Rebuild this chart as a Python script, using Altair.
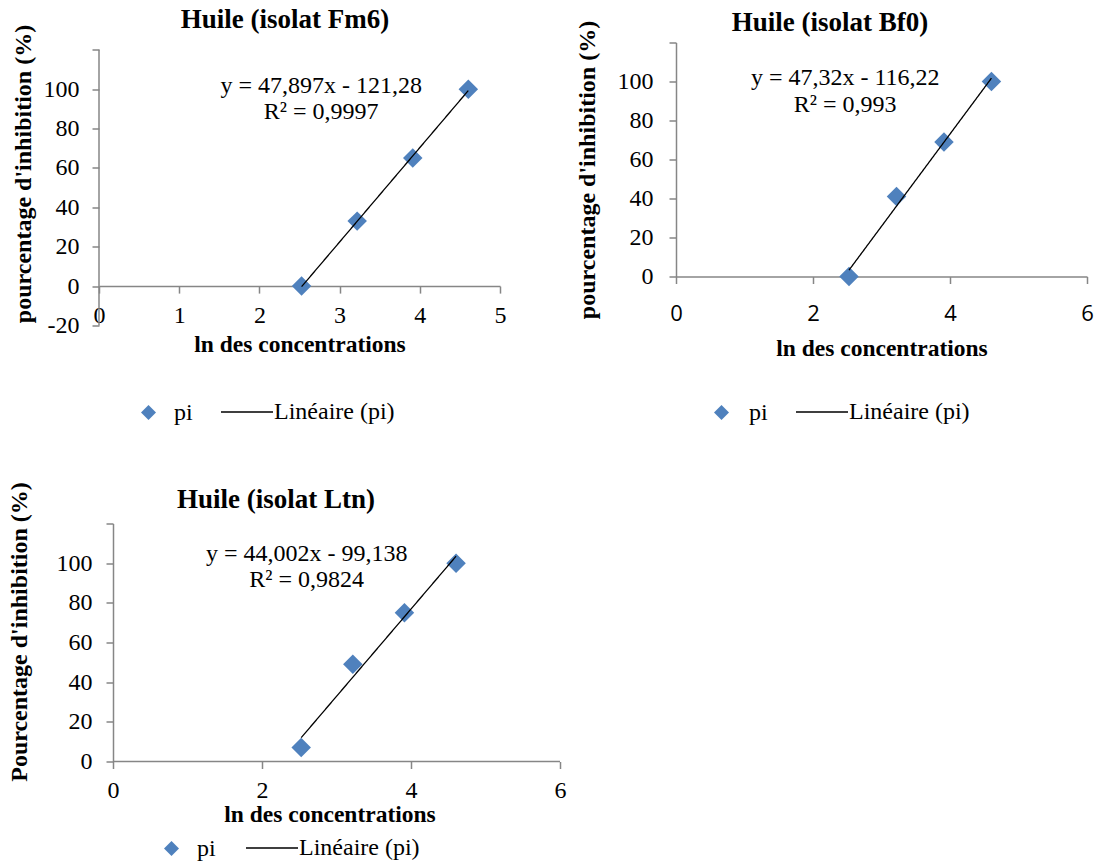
import altair as alt
import pandas as pd

# ---------------- data ----------------
ln_conc = [2.526, 3.219, 3.912, 4.605]
pi_fm6 = [0, 33, 65, 100]
pi_bf0 = [0, 41, 69, 100]
pi_ltn = [7, 49, 75, 100]

series_names = ["pi", "Linéaire (pi)"]
panel_titles = ["Huile (isolat Fm6)", "Huile (isolat Bf0)", "Huile (isolat Ltn)"]
y_titles = ["pourcentage d'inhibition (%)", "pourcentage d'inhibition (%)",
            "Pourcentage d'inhibition (%)"]
x_title = "ln des concentrations"
equations = [["y = 47,897x - 121,28", "R² = 0,9997"],
             ["y = 47,32x - 116,22", "R² = 0,993"],
             ["y = 44,002x - 99,138", "R² = 0,9824"]]
eq_x = [2.77, 2.47, 2.60]
eq_y = [[101.5, 88.3], [102.0, 87.7], [104.4, 91.3]]
x_ticks = [[0, 1, 2, 3, 4, 5], [0, 2, 4, 6], [0, 2, 4, 6]]
y_ticks = [[-20, 0, 20, 40, 60, 80, 100, 120],
           [0, 20, 40, 60, 80, 100, 120],
           [0, 20, 40, 60, 80, 100, 120]]

# ---------------- styles ----------------
GRAY = "#868686"
BLUE = "#4f81bd"
SERIF = "Liberation Serif"
SANS = "Open Sans"
LABEL_EXPR = "datum.value == 120 ? '' : '' + datum.value"


def x_axis(ticks, label_font, lp, title_y, offset=0, domain=True, fs=24):
    return alt.Axis(values=ticks, orient="bottom", offset=offset, domain=domain,
                    domainColor=GRAY, domainWidth=1.5, tickColor=GRAY, tickWidth=1.5,
                    tickSize=7, grid=False, labelFont=label_font, labelFontSize=fs,
                    labelColor="black", labelPadding=lp, labelFlush=False,
                    labelOverlap=False, labelExpr="'' + datum.value",
                    title=x_title, titleFont=SERIF, titleFontSize=23.5,
                    titleFontWeight="bold", titleColor="black",
                    titleBaseline="alphabetic", titleY=title_y)


def y_axis(ticks, title, lp, title_x, title_y, offset=0, domain=True):
    return alt.Axis(values=ticks, orient="left", offset=offset, domain=domain,
                    domainColor=GRAY, domainWidth=1.5, tickColor=GRAY, tickWidth=1.5,
                    tickSize=7, grid=False, labelFont=SERIF, labelFontSize=24,
                    labelColor="black", labelPadding=lp, labelFlush=False,
                    labelOverlap=False, labelExpr=LABEL_EXPR,
                    title=title, titleFont=SERIF, titleFontSize=24,
                    titleFontWeight="bold", titleColor="black", titleAngle=270,
                    titleAlign="center", titleBaseline="alphabetic",
                    titleX=title_x, titleY=title_y)


def legend_pts(lx, ly, loff):
    return alt.Legend(orient="none", legendX=lx, legendY=ly, title=None, padding=0,
                      symbolType="diamond", symbolSize=225, symbolStrokeWidth=0,
                      symbolOpacity=1, labelFont=SERIF, labelFontSize=24,
                      labelColor="black", labelOffset=loff)


def legend_line(lx, ly, loff):
    return alt.Legend(orient="none", legendX=lx, legendY=ly, title=None, padding=0,
                      symbolType="stroke", symbolSize=2704, symbolStrokeColor="black",
                      symbolStrokeWidth=1.3, labelFont=SERIF, labelFontSize=24,
                      labelColor="black", labelOffset=loff)


def panel(i, pi_vals, width, height, xdom, ydom, xax, yax, title_dx, title_dy,
          lp_pts, lp_line, rules=None):
    df = pd.DataFrame({"x": ln_conc, "y": pi_vals, "s": series_names[0]})
    x_enc = alt.X("x:Q", scale=alt.Scale(domain=xdom, nice=False, zero=False), axis=xax)
    y_enc = alt.Y("y:Q", scale=alt.Scale(domain=ydom, nice=False, zero=False), axis=yax)

    pts = alt.Chart(df).mark_point(shape="diamond", filled=True, size=380, opacity=1).encode(
        x=x_enc, y=y_enc,
        color=alt.Color("s:N", scale=alt.Scale(domain=[series_names[0]], range=[BLUE]),
                        legend=lp_pts))
    line = alt.Chart(df).transform_regression("x", "y").transform_calculate(
        t="'" + series_names[1] + "'"
    ).mark_line(color="black", strokeWidth=1.3).encode(
        x=x_enc, y=y_enc,
        strokeDash=alt.StrokeDash("t:N", scale=alt.Scale(domain=[series_names[1]],
                                                         range=[[1, 0]]),
                                  legend=lp_line))
    eq_df = pd.DataFrame({"x": [eq_x[i], eq_x[i]], "y": eq_y[i], "label": equations[i]})
    eq = alt.Chart(eq_df).mark_text(font=SERIF, fontSize=24, color="black",
                                    align="center", baseline="middle").encode(
        x=x_enc, y=y_enc, text="label:N")
    layers = []
    if rules is not None:
        rdf, kind = rules
        r = alt.Chart(rdf).mark_rule(color=GRAY, strokeWidth=1.5)
        if kind == "v":
            r = r.encode(x=x_enc, y=y_enc, y2="y2:Q")
        else:
            r = r.encode(x=x_enc, x2="x2:Q", y=y_enc)
        layers.append(r)
    layers += [pts, line, eq]
    return alt.layer(*layers).properties(
        width=width, height=height,
        title=alt.TitleParams(panel_titles[i], font=SERIF, fontSize=27, fontWeight="bold",
                              color="black", anchor="middle", frame="group",
                              baseline="alphabetic", offset=0, dx=title_dx, dy=title_dy))


# Panel 1 (Fm6): y axis drawn as a rule from -20 to 120, x axis crosses at y = 0
p1_rule = pd.DataFrame({"x": [x_ticks[0][0]], "y": [y_ticks[0][0]], "y2": [y_ticks[0][-1]]})
p1 = panel(0, pi_fm6, 401, 283, [0, 5], [-20, 123.7],
           x_axis(x_ticks[0], SERIF, 10, 65, offset=-39.4),
           y_axis(y_ticks[0], y_titles[0], 13, -69, 131, domain=False),
           -14.5, 31, legend_pts(37.5, 358, 13.5), legend_line(121, 342.5, 0),
           rules=(p1_rule, "v"))

p2 = panel(1, pi_bf0, 411, 234, [0, 6], [0, 120],
           x_axis(x_ticks[1], SANS, 19.6, 79, fs=22),
           y_axis(y_ticks[1], y_titles[1], 16, -81.5, 127),
           -51.5, 37.5, legend_pts(33.5, 358, 15.5), legend_line(119, 342.5, 0))

p3_rule = pd.DataFrame({"x": [x_ticks[2][0]], "x2": [x_ticks[2][-1]], "y": [y_ticks[2][0]]})
p3 = panel(2, pi_ltn, 461, 238, [-0.188, 6], [0, 120],
           x_axis(x_ticks[2], SERIF, 10, 60, domain=False),
           y_axis(y_ticks[2], y_titles[2], 14, -87, 108, offset=-14),
           -53.5, 53.5, legend_pts(60.5, 313, 13.5), legend_line(146, 297.5, 0),
           rules=(p3_rule, "h"))

chart = alt.concat(p1, p2, p3, columns=2, spacing={"row": 198, "column": 116},
                   bounds="flush").resolve_scale(
    color="independent", strokeDash="independent"
).configure_view(stroke=None).properties(
    padding={"left": 6, "top": 5.5, "right": 0, "bottom": 0}, background="white")

chart.save("out.html", embed_options={"renderer": "svg", "actions": False})
